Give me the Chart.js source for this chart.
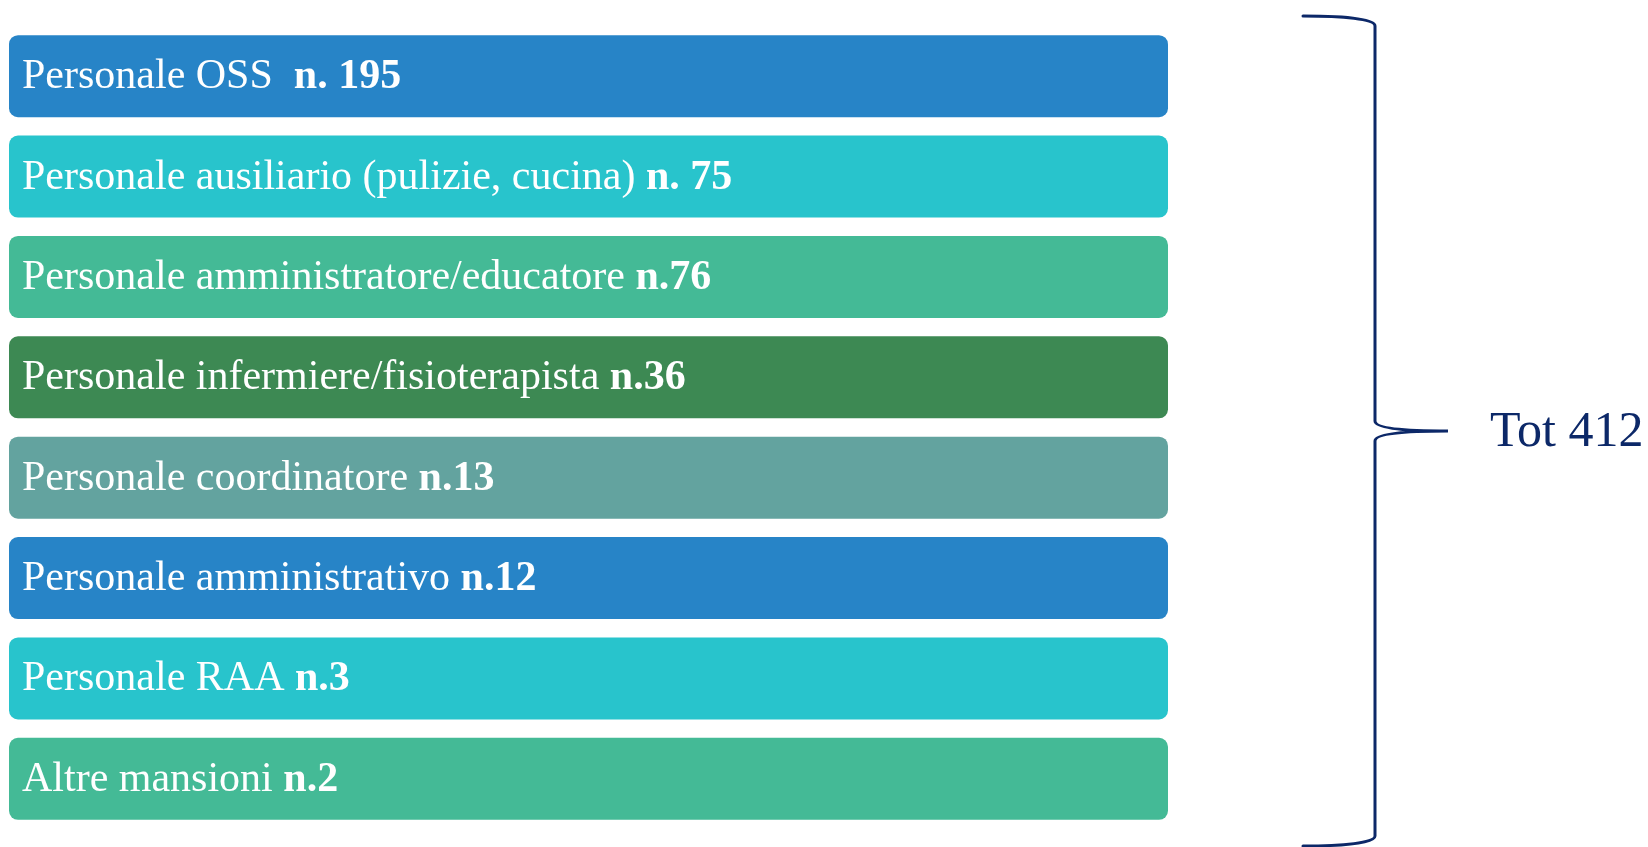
<!DOCTYPE html>
<html>
<head>
<meta charset="utf-8">
<script src="https://cdn.jsdelivr.net/npm/chart.js@4.4.1/dist/chart.umd.min.js"></script>
<style>
  html, body { margin: 0; padding: 0; background: #ffffff; }
  #wrap { width: 1648px; height: 847px; position: relative; }
</style>
</head>
<body>
<div id="wrap"><canvas id="c"></canvas></div>
<script>
// ---- data ----
const categories = [
  "Personale OSS",
  "Personale ausiliario (pulizie, cucina)",
  "Personale amministratore/educatore",
  "Personale infermiere/fisioterapista",
  "Personale coordinatore",
  "Personale amministrativo",
  "Personale RAA",
  "Altre mansioni"
];
const counts = [195, 75, 76, 36, 13, 12, 3, 2];
const countLabels = ["n. 195", "n. 75", "n.76", "n.36", "n.13", "n.12", "n.3", "n.2"];
const labelGaps = ["  ", " ", " ", " ", " ", " ", " ", " "];
// every box in the diagram spans the full width
const boxLength = [1, 1, 1, 1, 1, 1, 1, 1];
const totalLabel = "Tot 412";
const barColors = ["#2784C7", "#28C4CC", "#44BA96", "#3D8953", "#63A39F", "#2784C7", "#28C4CC", "#44BA96"];
const navy = "#0C2868";

const labelPlugin = {
  id: 'boxLabels',
  afterDatasetsDraw(chart) {
    const ctx = chart.ctx;
    const meta = chart.getDatasetMeta(0);
    ctx.save();
    ctx.fillStyle = "#ffffff";
    ctx.textBaseline = "alphabetic";
    ctx.textAlign = "left";
    meta.data.forEach((bar, i) => {
      const x = chart.chartArea.left + 13;
      const y = bar.y + 12;
      ctx.font = "42px 'Liberation Serif'";
      const t1 = categories[i] + labelGaps[i];
      ctx.fillText(t1, x, y);
      const w = ctx.measureText(t1).width;
      ctx.font = "bold 42px 'Liberation Serif'";
      ctx.fillText(countLabels[i], x + w, y);
    });
    ctx.restore();
  }
};

const bracePlugin = {
  id: 'brace',
  afterDraw(chart) {
    const ctx = chart.ctx;
    const top = 16;
    const bot = chart.height - 1;
    const midY = (top + bot) / 2;
    const xl = 1303, xv = 1375, xt = 1448;
    const ry = 10;
    ctx.save();
    ctx.strokeStyle = navy;
    ctx.lineWidth = 3;
    ctx.lineCap = "round";
    ctx.beginPath();
    ctx.moveTo(xl, top);
    ctx.bezierCurveTo(xl + 40, top, xv, top + 3, xv, top + ry);
    ctx.lineTo(xv, midY - ry);
    ctx.bezierCurveTo(xv, midY - 2, xv + 35, midY, xt, midY);
    ctx.bezierCurveTo(xv + 35, midY, xv, midY + 2, xv, midY + ry);
    ctx.lineTo(xv, bot - ry);
    ctx.bezierCurveTo(xv, bot - 3, xl + 40, bot, xl, bot);
    ctx.stroke();
    ctx.fillStyle = navy;
    ctx.font = "50px 'Liberation Serif'";
    ctx.textBaseline = "alphabetic";
    ctx.fillText(totalLabel, 1490, midY + 15);
    ctx.restore();
  }
};

new Chart(document.getElementById('c'), {
  type: 'bar',
  data: {
    labels: categories,
    datasets: [{
      data: boxLength,
      backgroundColor: barColors,
      borderWidth: 0,
      borderRadius: 9,
      borderSkipped: false,
      barPercentage: 0.816,
      categoryPercentage: 1.0
    }]
  },
  options: {
    indexAxis: 'y',
    responsive: true,
    maintainAspectRatio: false,
    animation: false,
    layout: { padding: { left: 9, right: 480, top: 26, bottom: 18 } },
    scales: {
      x: { display: false, min: 0, max: 1 },
      y: { display: false }
    },
    plugins: {
      legend: { display: false },
      tooltip: { enabled: false }
    }
  },
  plugins: [labelPlugin, bracePlugin]
});
</script>
</body>
</html>
